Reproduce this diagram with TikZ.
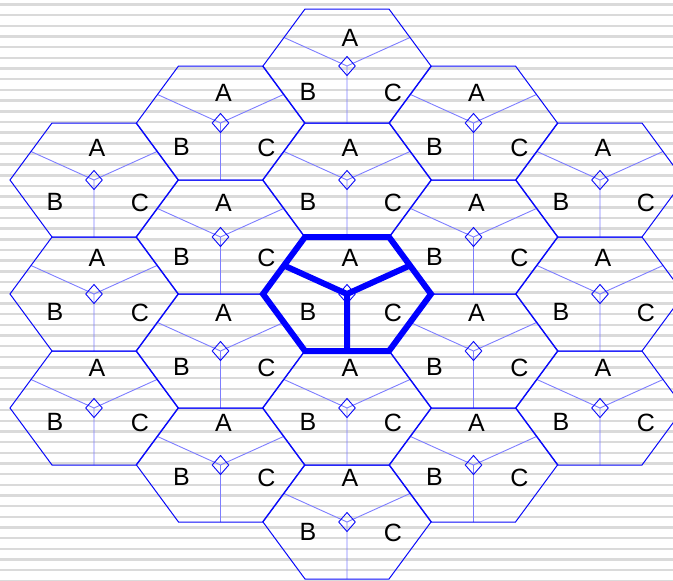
\documentclass[tikz,border=0pt]{standalone}
\usepackage{fontspec}
\setmainfont{Liberation Sans}
\usetikzlibrary{calc}
\definecolor{hexblue}{RGB}{10,10,250}
\definecolor{partblue}{RGB}{125,125,255}
\definecolor{stripegray}{RGB}{218,218,218}
\begin{document}
\begin{tikzpicture}[x=1pt,y=-1pt,
  hexedge/.style={draw=hexblue,line width=1pt},
  part/.style={draw=partblue,line width=0.9pt},
  diam/.style={draw=hexblue,line width=0.9pt},
  thick hex/.style={draw=blue,line width=6pt,line join=miter},
  lbl/.style={font=\fontsize{25}{25}\selectfont,inner sep=0pt,text=black}]
\useasboundingbox (0,0) rectangle (673,581);
\fill[white] (0,0) rectangle (673,581);
\foreach \i in {0,...,54} {
  \draw[stripegray,line width=2.4pt] (0,{4.6+10.67*\i}) -- (673,{4.6+10.67*\i});
}
\begin{scope}
\clip (0,0) rectangle (673,581);
\foreach \k/\r in {0/-4,0/-2,0/0,0/2,0/4,-1/-3,-1/-1,-1/1,-1/3,1/-3,1/-1,1/1,1/3,-2/-2,-2/0,-2/2,2/-2,2/0,2/2} {
  \pgfmathsetmacro\cx{347+126.5*\k}
  \pgfmathsetmacro\cy{294+57*\r}
  \pgfmathsetmacro\ay{-36-2*\r}
  \pgfmathsetmacro\by{18-2*\r}
  \pgfmathsetmacro\cyy{19-2*\r}
  \begin{scope}[shift={(\cx,\cy)}]
    \coordinate (ctr\k r\r) at (0,0);
    \draw[part] (-63,-28.5) -- (ctr\k r\r) -- (63,-28.5) (ctr\k r\r) -- (0,57);
    \draw[diam] (0,-9.5) -- (8.3,0) -- (0,9.5) -- (-8.3,0) -- cycle;
    \draw[hexedge] (-84,0) -- (-42,-57) -- (42,-57) -- (84,0) -- (42,57) -- (-42,57) -- cycle;
    \node[lbl] (A\k r\r) at (3,\ay) {A};
    \node[lbl] (B\k r\r) at (-39,\by) {B};
    \node[lbl] (C\k r\r) at (46,\cyy) {C};
  \end{scope}
}
\begin{scope}[shift={(347,294)}]
  \draw[thick hex] (-84,0) -- (-42,-57) -- (42,-57) -- (84,0) -- (42,57) -- (-42,57) -- cycle;
  \draw[thick hex] (-63,-28.5) -- (0,0) -- (63,-28.5) (0,0) -- (0,57);
\end{scope}
\end{scope}
\end{tikzpicture}
\end{document}
